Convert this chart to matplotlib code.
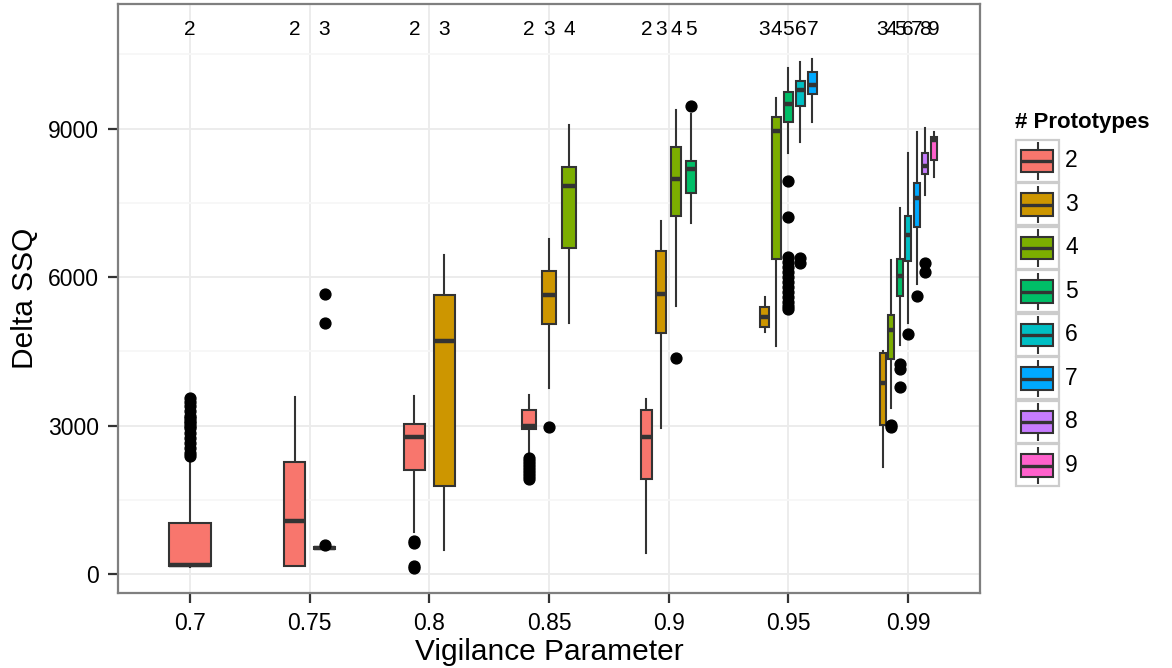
import matplotlib
matplotlib.use('Agg')
import matplotlib.pyplot as plt
from matplotlib.patches import Rectangle

plt.rcParams['font.family'] = ['Liberation Sans', 'DejaVu Sans']

# ---------------- data ----------------
vigilance = ['0.7', '0.75', '0.8', '0.85', '0.9', '0.95', '0.99']
prototype_levels = ['2', '3', '4', '5', '6', '7', '8', '9']
colors = ['#F8766D', '#CD9600', '#7CAE00', '#00BE67',
          '#00BFC4', '#00A9FF', '#C77CFF', '#FF61CC']

box_group = ['0.7', '0.75', '0.75', '0.8', '0.8',
             '0.85', '0.85', '0.85',
             '0.9', '0.9', '0.9', '0.9',
             '0.95', '0.95', '0.95', '0.95', '0.95',
             '0.99', '0.99', '0.99', '0.99', '0.99', '0.99', '0.99']
box_proto = ['2', '2', '3', '2', '3',
             '2', '3', '4',
             '2', '3', '4', '5',
             '3', '4', '5', '6', '7',
             '3', '4', '5', '6', '7', '8', '9']
whisker_low = [150, 170, 505, 860, 490,
               2400, 3760, 5080,
               425, 2950, 5420, 7100,
               4885, 4610, 8500, 8720, 9125,
               2160, 3350, 4630, 5070, 5860, 7660, 8030]
q1 = [160, 175, 515, 2100, 1790,
      2940, 5060, 6580,
      1925, 4865, 7235, 7705,
      4990, 6365, 9125, 9455, 9700,
      3015, 4340, 5625, 6330, 7020, 8075, 8365]
median = [185, 1075, 530, 2780, 4720,
          2990, 5630, 7830,
          2770, 5660, 7975, 8180,
          5190, 8950, 9490, 9780, 9880,
          3870, 4930, 6020, 6850, 7590, 8250, 8770]
q3 = [1040, 2270, 545, 3035, 5630,
      3310, 6120, 8230,
      3320, 6530, 8620, 8350,
      5390, 9225, 9745, 9965, 10150,
      4475, 5235, 6360, 7240, 7895, 8510, 8835]
whisker_high = [2330, 3585, 555, 3590, 6450,
                3630, 6780, 9070,
                3545, 7140, 9375, 9290,
                5605, 9610, 10230, 10335, 10400,
                4500, 6345, 7390, 8500, 8935, 9015, 8935]
outliers = [
    [2380, 2450, 2550, 2650, 2750, 2850, 2950, 3000, 3050, 3100, 3150, 3200,
     3300, 3400, 3480, 3550],
    [],
    [590, 5070, 5650],
    [130, 160, 640, 680],
    [],
    [1930, 1990, 2050, 2110, 2170, 2230, 2290, 2340],
    [2965],
    [],
    [],
    [],
    [4370],
    [9460],
    [],
    [],
    [7950, 7220, 6400, 6300, 6200, 6100, 6000, 5900, 5800, 5700, 5600, 5500,
     5420, 5350],
    [6380, 6280],
    [],
    [],
    [2980, 3010],
    [4250, 4150, 3790],
    [4845],
    [5620],
    [6280, 6110],
    [],
]
top_label_value = 11000
y_ticks = [0, 3000, 6000, 9000]
y_minor = [1500, 4500, 7500, 10500]

# ---------------- figure ----------------
W, H = 1172, 668
fig = plt.figure(figsize=(W / 100, H / 100), dpi=100)
pl, pr, pt, pb = 118, 980, 4, 593
ax = fig.add_axes([pl / W, 1 - pb / H, (pr - pl) / W, (pb - pt) / H])

DODGE = 0.5
BOXW = 0.35
edge = '#333333'

stats, positions, widths, fcolors = [], [], [], []
for gi, g in enumerate(vigilance):
    idx = [k for k, bg in enumerate(box_group) if bg == g]
    n = len(idx)
    for j, k in enumerate(idx):
        pos = gi - DODGE / 2 + (j + 0.5) * DODGE / n
        positions.append(pos)
        widths.append(BOXW / n)
        fcolors.append(colors[prototype_levels.index(box_proto[k])])
        stats.append(dict(med=median[k], q1=q1[k], q3=q3[k],
                          whislo=whisker_low[k], whishi=whisker_high[k],
                          fliers=outliers[k]))
        ax.text(pos, top_label_value, box_proto[k], ha='center', va='center',
                fontsize=15, color='black', zorder=5)

bp = ax.bxp(stats, positions=positions, widths=widths, patch_artist=True,
            showcaps=False, manage_ticks=False,
            boxprops=dict(edgecolor=edge, linewidth=1.5),
            whiskerprops=dict(color=edge, linewidth=1.5),
            medianprops=dict(color=edge, linewidth=3.2, solid_capstyle='butt'),
            flierprops=dict(marker='o', markerfacecolor='black',
                            markeredgecolor='black', markersize=7.8,
                            linestyle='none'))
for patch, c in zip(bp['boxes'], fcolors):
    patch.set_facecolor(c)
    patch.set_zorder(3)
for ln in bp['medians'] + bp['fliers']:
    ln.set_zorder(4)
for ln in bp['whiskers']:
    ln.set_zorder(2.5)

ax.set_xlim(-0.6, len(vigilance) - 0.4)
ax.set_ylim(-378, 11515)
ax.set_xticks(range(len(vigilance)))
ax.set_xticklabels(vigilance)
ax.set_yticks(y_ticks)
ax.set_yticklabels([str(v) for v in y_ticks])
ax.set_yticks(y_minor, minor=True)
ax.tick_params(axis='y', which='minor', length=0)
ax.tick_params(which='major', length=7, width=1.6, color='#333333',
               labelsize=16.5, labelcolor='black', pad=6.5)
ax.grid(True, which='major', color='#EBEBEB', linewidth=1.3, zorder=0)
ax.grid(True, which='minor', axis='y', color='#F7F7F7', linewidth=1.3, zorder=0)
ax.set_axisbelow(True)
for s in ax.spines.values():
    s.set_color('#7F7F7F')
    s.set_linewidth(1.6)

ax.set_xlabel('Vigilance Parameter', fontsize=21.5)
ax.xaxis.label.set_va('baseline')
ax.xaxis.set_label_coords(0.5, (pb - 660) / (pb - pt))
ax.set_ylabel('Delta SSQ', fontsize=21.5)
ax.yaxis.label.set_va('baseline')
ax.yaxis.set_label_coords((33 - pl) / (pr - pl), 0.5)

# ---------------- legend ----------------
lx0, lx1, ly0, ly1 = 1015, 1060, 139, 487
lax = fig.add_axes([lx0 / W, 1 - ly1 / H, (lx1 - lx0) / W, (ly1 - ly0) / H])
lax.set_xlim(0, 1)
lax.set_ylim(len(prototype_levels), 0)
lax.axis('off')
for i, (lab, c) in enumerate(zip(prototype_levels, colors)):
    lax.add_patch(Rectangle((0.02, i + 0.02), 0.96, 0.96, facecolor='white',
                            edgecolor='#CCCCCC', linewidth=1.6, clip_on=False))
    lax.plot([0.5, 0.5], [i + 0.08, i + 0.25], color=edge, lw=1.5,
             solid_capstyle='butt')
    lax.plot([0.5, 0.5], [i + 0.77, i + 0.94], color=edge, lw=1.5,
             solid_capstyle='butt')
    lax.add_patch(Rectangle((0.13, i + 0.25), 0.72, 0.52, facecolor=c,
                            edgecolor=edge, linewidth=1.5))
    lax.plot([0.13, 0.85], [i + 0.51, i + 0.51], color=edge, lw=2.4,
             solid_capstyle='butt')
    fig.text(1065 / W, 1 - (ly0 + (i + 0.5) * (ly1 - ly0) / 8) / H, lab,
             ha='left', va='center', fontsize=16.5, color='black')
fig.text(1015 / W, 1 - 128 / H, '# Prototypes', ha='left', va='baseline',
         fontsize=16, fontweight='bold', color='black')

fig.savefig('out.png', dpi=100)
